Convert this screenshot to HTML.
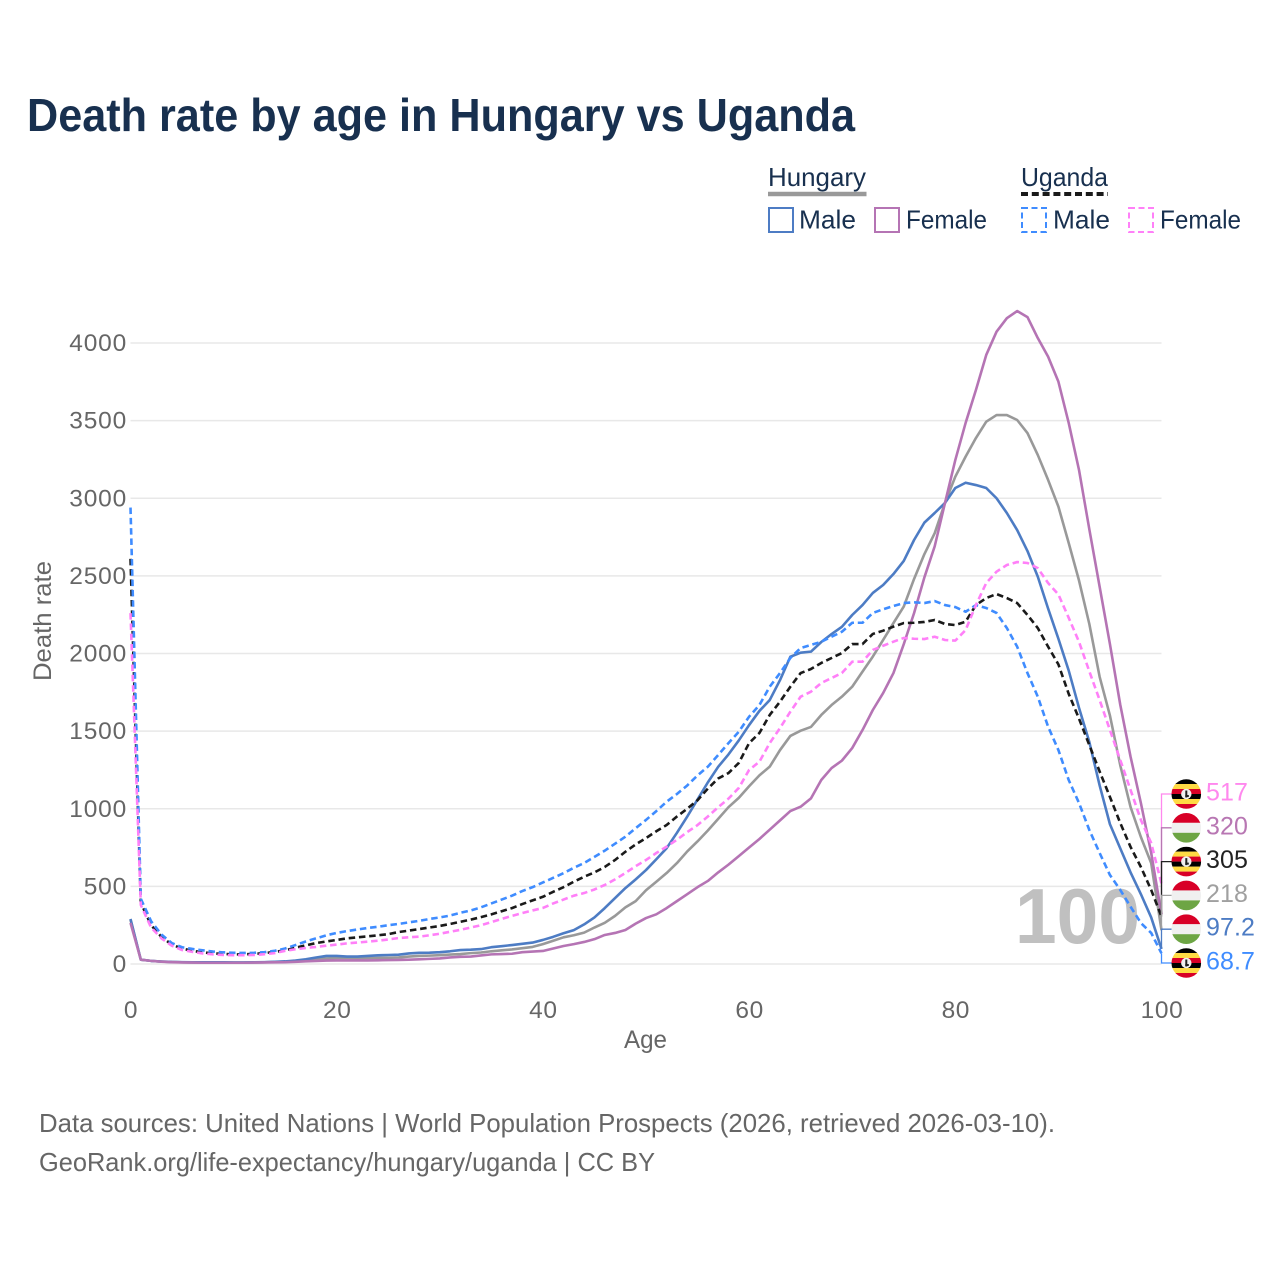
<!DOCTYPE html>
<html lang="en">
<head>
<meta charset="utf-8">
<title>Death rate by age in Hungary vs Uganda</title>
<style>
html,body{margin:0;padding:0;background:#fff;}
svg{display:block;font-family:"Liberation Sans",sans-serif;}
</style>
</head>
<body>
<svg id="chart" xmlns="http://www.w3.org/2000/svg" width="1280" height="1280" viewBox="0 0 1280 1280">
  <rect x="0" y="0" width="1280" height="1280" fill="#fff"/>
  <text x="27" y="131" font-size="46" font-weight="700" fill="#18304f" textLength="828" lengthAdjust="spacingAndGlyphs">Death rate by age in Hungary vs Uganda</text>

  <g>
    <text x="768" y="186" font-size="26" fill="#18304f" textLength="98" lengthAdjust="spacingAndGlyphs">Hungary</text>
    <line x1="768" x2="866.5" y1="194" y2="194" stroke="#999" stroke-width="4.5"/>
    <text x="1021" y="186" font-size="26" fill="#18304f" textLength="87" lengthAdjust="spacingAndGlyphs">Uganda</text>
    <line x1="1021" x2="1108" y1="194" y2="194" stroke="#1a1a1a" stroke-width="4" stroke-dasharray="7 3.8"/>
    <g>
      <rect x="769" y="208" width="24" height="24" fill="none" stroke="#4d7cc4" stroke-width="2"/>
      <text x="799" y="228.5" font-size="26" fill="#18304f" textLength="57" lengthAdjust="spacingAndGlyphs">Male</text>
    </g>
    <g>
      <rect x="875" y="208" width="24" height="24" fill="none" stroke="#b574b4" stroke-width="2"/>
      <text x="906" y="228.5" font-size="26" fill="#18304f" textLength="81" lengthAdjust="spacingAndGlyphs">Female</text>
    </g>
    <g>
      <rect x="1022" y="208" width="24" height="24" fill="none" stroke="#3f8cff" stroke-width="2" stroke-dasharray="6 3.5"/>
      <text x="1053" y="228.5" font-size="26" fill="#18304f" textLength="57" lengthAdjust="spacingAndGlyphs">Male</text>
    </g>
    <g>
      <rect x="1129" y="208" width="24" height="24" fill="none" stroke="#ff80f8" stroke-width="2" stroke-dasharray="6 3.5"/>
      <text x="1160" y="228.5" font-size="26" fill="#18304f" textLength="81" lengthAdjust="spacingAndGlyphs">Female</text>
    </g>
  </g>

  <g id="grid"></g>
  <text x="1015" y="943" font-size="78" font-weight="700" fill="#c0c0c0" textLength="125" lengthAdjust="spacingAndGlyphs">100</text>
  <g id="yticks"></g>
  <g id="xticks"></g>
  <text transform="translate(51 681) rotate(-90)" font-size="25" fill="#666" textLength="120" lengthAdjust="spacingAndGlyphs">Death rate</text>
  <text x="624" y="1048" font-size="25" fill="#666" textLength="43" lengthAdjust="spacingAndGlyphs">Age</text>
  <g id="series"></g>
  <g id="labels"></g>

  <text x="39" y="1132" font-size="26" fill="#666" textLength="1016" lengthAdjust="spacingAndGlyphs">Data sources: United Nations | World Population Prospects (2026, retrieved 2026-03-10).</text>
  <text x="39" y="1171" font-size="26" fill="#666" textLength="616" lengthAdjust="spacingAndGlyphs">GeoRank.org/life-expectancy/hungary/uganda | CC BY</text>
</svg>
<script>
const xTickValues = [0, 20, 40, 60, 80, 100];
const yTickValues = [0, 500, 1000, 1500, 2000, 2500, 3000, 3500, 4000];

const hungaryMale = [290,28,20,16,13,12,11,11,11,11,10,10,11,12,14,17,22,30,42,52,52,48,48,52,56,58,60,68,72,73,76,82,90,92,96,108,115,122,130,138,155,175,198,218,255,300,360,425,489,545,605,675,746,845,950,1060,1170,1270,1350,1440,1539,1630,1700,1829,1979,2005,2012,2074,2125,2172,2248,2312,2390,2441,2512,2596,2731,2843,2905,2970,3066,3100,3085,3066,3000,2905,2795,2660,2495,2290,2095,1890,1650,1430,1150,900,745,590,450,300,97.2];
const hungaryFemale = [265,28,20,15,12,10,9,8,8,8,8,8,9,10,11,12,14,17,20,22,23,23,23,23,24,25,26,28,30,33,36,42,46,48,55,62,64,66,76,80,84,100,116,128,142,160,187,200,219,260,296,320,360,405,450,495,535,590,640,695,750,805,865,925,985,1013,1067,1185,1262,1310,1391,1507,1636,1745,1874,2060,2260,2490,2690,2970,3246,3485,3697,3923,4073,4160,4206,4167,4032,3912,3751,3485,3182,2800,2430,2060,1670,1335,1037,715,320];
const hungaryBoth = [285,28,20,16,13,11,10,10,10,10,9,9,10,11,13,15,18,24,31,36,38,38,37,38,39,40,42,48,52,54,57,61,64,70,74,82,88,94,102,110,128,150,172,185,202,235,265,310,365,405,475,530,586,650,725,790,860,935,1010,1070,1145,1215,1271,1378,1469,1503,1527,1604,1668,1722,1786,1883,1980,2087,2196,2302,2480,2640,2775,2970,3139,3268,3388,3493,3536,3536,3504,3420,3279,3118,2946,2712,2470,2190,1850,1600,1280,1011,818,650,218];
const ugandaMale = [2940,420,275,190,135,108,97,88,80,75,72,71,72,76,85,100,122,145,165,185,200,212,222,232,240,250,258,268,278,290,300,312,330,345,365,390,415,440,470,495,525,555,585,620,650,690,730,775,820,875,928,985,1045,1095,1150,1215,1271,1346,1423,1496,1593,1668,1786,1874,1971,2035,2055,2076,2108,2140,2198,2198,2261,2285,2306,2325,2330,2325,2338,2312,2299,2269,2312,2293,2261,2164,2044,1874,1722,1529,1378,1185,1037,863,715,573,477,369,264,200,68.7];
const ugandaBoth = [2610,395,250,175,125,100,85,75,68,65,62,62,65,70,78,88,105,120,135,145,155,165,172,178,185,192,206,215,225,235,245,258,272,286,302,320,340,360,386,410,433,465,495,530,562,590,625,670,723,770,811,855,895,950,1000,1055,1130,1195,1230,1295,1423,1488,1604,1690,1786,1874,1900,1939,1971,2003,2061,2061,2126,2147,2173,2196,2198,2203,2216,2190,2183,2205,2312,2357,2383,2357,2325,2248,2164,2044,1930,1740,1580,1410,1240,1076,908,754,625,477,305];
const ugandaFemale = [2260,380,235,165,118,90,78,68,62,58,57,57,58,63,70,85,95,103,110,118,125,133,138,144,150,158,167,172,176,185,195,208,220,235,250,270,290,310,328,345,361,390,415,440,457,480,509,545,586,630,670,715,756,800,850,895,950,1010,1065,1134,1250,1303,1423,1520,1625,1722,1754,1810,1842,1874,1947,1947,2023,2050,2076,2100,2095,2093,2108,2087,2083,2151,2312,2454,2527,2570,2589,2583,2550,2454,2380,2230,2075,1885,1700,1507,1314,1121,928,779,517];

const seriesNames = ['hungary-both', 'hungary-male', 'hungary-female', 'uganda-both', 'uganda-male', 'uganda-female'];
const seriesValues = [hungaryBoth, hungaryMale, hungaryFemale, ugandaBoth, ugandaMale, ugandaFemale];
const seriesColors = ['#999999', '#4d7cc4', '#b574b4', '#1a1a1a', '#3f8cff', '#ff80f8'];
const seriesDashed = [false, false, false, true, true, true];

const labelSeries = [5, 2, 3, 0, 1, 4];
const labelText = ['517', '320', '305', '218', '97.2', '68.7'];
const labelColors = ['#ff88ee', '#b877b3', '#222222', '#a0a0a0', '#4d7cc4', '#3f8cff'];
const labelFlags = ['uganda', 'hungary', 'uganda', 'hungary', 'hungary', 'uganda'];

const NS = 'http://www.w3.org/2000/svg';
const X0 = 130.5, X100 = 1161.5, Y0 = 964, Y4000 = 343;
function xAxis(age) { return X0 + age * (X100 - X0) / 100; }
function yAxis(v) { return Y0 - v * (Y0 - Y4000) / 4000; }
function mk(tag, parent, attrs) {
  const e = document.createElementNS(NS, tag);
  for (const k in attrs) e.setAttribute(k, attrs[k]);
  parent.appendChild(e);
  return e;
}

const gridG = document.getElementById('grid');
const yG = document.getElementById('yticks');
yTickValues.forEach(v => {
  const gl = mk('line', gridG, {x1: X0, x2: X100, y1: yAxis(v), y2: yAxis(v), stroke: '#e8e8e8', 'stroke-width': 1.5});
  
  
  const t = mk('text', yG, {x: 127, y: yAxis(v) + 8, 'text-anchor': 'end', 'font-size': 24.5, fill: '#666', 'letter-spacing': 0.8});
  t.textContent = v;
  
  
});

const xG = document.getElementById('xticks');
xTickValues.forEach(v => {
  const t = mk('text', xG, {x: xAxis(v) + 0.5, y: 1018, 'text-anchor': 'middle', 'font-size': 24.5, fill: '#666', 'letter-spacing': 0.6});
  t.textContent = v;
  
  
});

const sG = document.getElementById('series');
seriesValues.forEach((vals, i) => {
  const d = vals.map((v, a) => (a ? 'L' : 'M') + xAxis(a).toFixed(2) + ' ' + yAxis(v).toFixed(2)).join('');
  const p = mk('path', sG, {d: d, fill: 'none', stroke: seriesColors[i], 'stroke-width': 2.6, 'stroke-linejoin': 'round'});
  if (seriesDashed[i]) p.setAttribute('stroke-dasharray', '6.5 3.8');
  
  
});

const defs = mk('defs', document.getElementById('chart'), {});
const cp = mk('clipPath', defs, {id: 'flagClip'});
mk('circle', cp, {cx: 0, cy: 0, r: 14.8});

function drawFlag(parent, kind) {
  if (kind === 'uganda') {
    ['#000000', '#ffda44', '#d80027', '#000000', '#ffda44', '#d80027'].forEach((c, i) => {
      mk('rect', parent, {x: -15, y: -15 + i * 5, width: 30, height: 5.1, fill: c});
    });
    mk('circle', parent, {cx: 0, cy: 0, r: 5.2, fill: '#f0f0f0'});
    mk('rect', parent, {x: -1, y: -3.5, width: 2, height: 7, fill: '#222'});
    mk('rect', parent, {x: -1, y: 1, width: 3.5, height: 2, fill: '#222'});
  } else {
    ['#d80027', '#f0f0f0', '#6da544'].forEach((c, i) => {
      mk('rect', parent, {x: -15, y: -15 + i * 10, width: 30, height: 10.1, fill: c});
    });
  }
}

const lG = document.getElementById('labels');
labelText.forEach((txt, i) => {
  const ly = 794 + i * 33.8;
  const vals = seriesValues[labelSeries[i]];
  const endY = yAxis(vals[vals.length - 1]);
  const g = mk('g', lG, {});
  
  
  const c = mk('polyline', g, {points: X100 + ',' + endY + ' ' + X100 + ',' + ly + ' 1172,' + ly, fill: 'none', stroke: labelColors[i], 'stroke-width': 1.3});
  
  
  const f = mk('g', g, {transform: 'translate(1186.3 ' + ly + ')', 'clip-path': 'url(#flagClip)'});
  
  
  drawFlag(f, labelFlags[i]);
  const t = mk('text', g, {x: 1206, y: ly + 6.5, 'font-size': 25, fill: labelColors[i], 'letter-spacing': 0.1});
  t.textContent = txt;
  
  
});
</script>
</body>
</html>
